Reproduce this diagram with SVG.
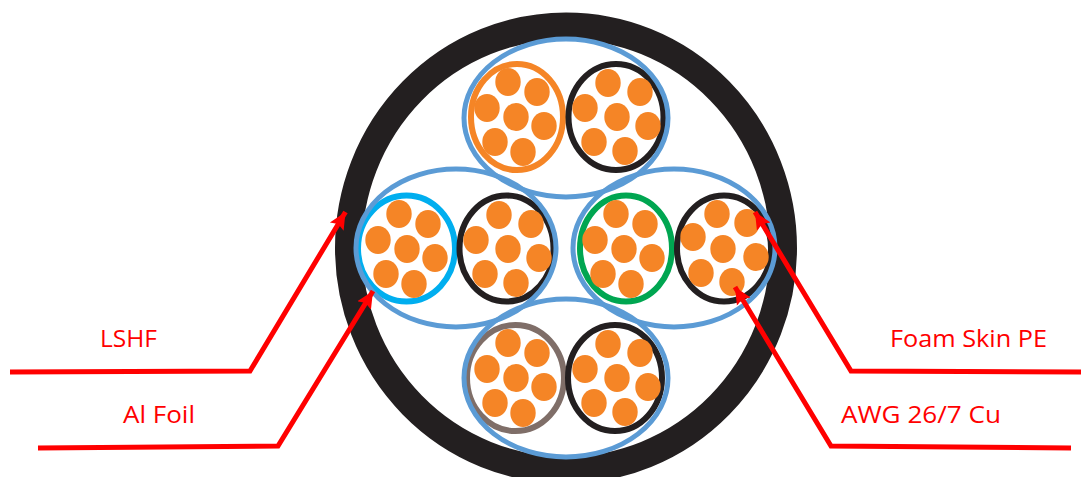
<svg xmlns="http://www.w3.org/2000/svg" width="1081" height="477" viewBox="0 0 1081 477">
<style>
.w{fill:#f58526}
.r{fill:#fff;stroke-width:6}
.b{fill:none;stroke:#5b9bd5;stroke-width:5}
.l{fill:none;stroke:#ff0000;stroke-width:5}
text{font-family:"Open Sans","Liberation Sans",sans-serif;font-size:24.500px;fill:#ff0000}
</style>
<defs>
<g id="wires">
<ellipse class="w" cx="-8" cy="-35" rx="12.7" ry="14"/>
<ellipse class="w" cx="21" cy="-25" rx="12.7" ry="14"/>
<ellipse class="w" cx="-29" cy="-9" rx="12.7" ry="14"/>
<ellipse class="w" cx="0" cy="0" rx="12.7" ry="14"/>
<ellipse class="w" cx="28" cy="9" rx="12.7" ry="14"/>
<ellipse class="w" cx="-21" cy="25" rx="12.7" ry="14"/>
<ellipse class="w" cx="7" cy="35" rx="12.7" ry="14"/>
</g>
<g id="wires-wide">
<ellipse class="w" cx="-9" cy="-34" rx="12.7" ry="14"/>
<ellipse class="w" cx="23" cy="-25" rx="12.7" ry="14"/>
<ellipse class="w" cx="-32" cy="-9" rx="12.7" ry="14"/>
<ellipse class="w" cx="0" cy="0" rx="12.7" ry="14"/>
<ellipse class="w" cx="31" cy="9" rx="12.7" ry="14"/>
<ellipse class="w" cx="-23" cy="25" rx="12.7" ry="14"/>
<ellipse class="w" cx="8" cy="34" rx="12.7" ry="14"/>
</g>
<g id="wires-turned">
<ellipse class="w" cx="-6" cy="-35" rx="12.7" ry="14"/>
<ellipse class="w" cx="24" cy="-26" rx="12.7" ry="14"/>
<ellipse class="w" cx="-30" cy="-12" rx="12.7" ry="14"/>
<ellipse class="w" cx="0" cy="0" rx="12.7" ry="14"/>
<ellipse class="w" cx="33" cy="8" rx="12.7" ry="14"/>
<ellipse class="w" cx="-22" cy="24" rx="12.7" ry="14"/>
<ellipse class="w" cx="9" cy="33" rx="12.7" ry="14"/>
</g>
<marker id="a" markerUnits="userSpaceOnUse" markerWidth="20" markerHeight="20" refX="17" refY="9" orient="auto"><path d="M0 1L17 9L0 17L3 9Z" fill="#ff0000"/></marker>
</defs>
<rect width="1081" height="477" fill="#fff"/>
<g id="jacket"><ellipse cx="566" cy="248" rx="217.500" ry="222" fill="#fff" stroke="#231f20" stroke-width="27"/></g>
<g id="cable-orange"><ellipse class="r" cx="517" cy="117" rx="46" ry="53" stroke="#f58526" stroke-width="6.500"/><use href="#wires" x="516" y="117"/></g>
<g id="cable-top-black"><ellipse class="r" cx="616" cy="117" rx="47.500" ry="53" stroke="#231f20"/><use href="#wires-wide" x="617" y="117"/></g>
<g id="cable-blue"><ellipse class="r" cx="406.500" cy="248.500" rx="48.500" ry="53" stroke="#00aeef"/><use href="#wires" x="407" y="249"/></g>
<g id="cable-left-black"><ellipse class="r" cx="506.500" cy="248.500" rx="47" ry="53" stroke="#231f20"/><use href="#wires-wide" x="508" y="249"/></g>
<g id="cable-green"><ellipse class="r" cx="626" cy="248.500" rx="46" ry="53" stroke="#00a651"/><use href="#wires" x="624" y="249"/></g>
<g id="cable-right-black"><ellipse class="r" cx="724" cy="248.500" rx="47" ry="53" stroke="#231f20"/><use href="#wires-turned" x="723" y="249"/></g>
<g id="cable-brown"><ellipse class="r" cx="515.500" cy="378" rx="48.500" ry="53" stroke="#7f6e68"/><use href="#wires" x="516" y="378"/></g>
<g id="cable-bottom-black"><ellipse class="r" cx="615" cy="378" rx="47" ry="53" stroke="#231f20"/><use href="#wires-wide" x="617" y="378"/></g>
<g id="shield-top"><ellipse class="b" cx="566" cy="118" rx="102" ry="79"/></g>
<g id="shield-left"><ellipse class="b" cx="456" cy="248" rx="100" ry="79"/></g>
<g id="shield-right"><ellipse class="b" cx="674" cy="248" rx="101" ry="79"/></g>
<g id="shield-bottom"><ellipse class="b" cx="566" cy="378" rx="102" ry="79"/></g>
<g id="connectors">
<polyline class="l" points="10,372 250,371 345.500,212" marker-end="url(#a)"/>
<polyline class="l" points="38,448 278,446 373,291" marker-end="url(#a)"/>
<polyline class="l" points="1081,372 851,371 755,212" marker-end="url(#a)"/>
<polyline class="l" points="1071,448 831,446 735,287" marker-end="url(#a)"/>
</g>
<g id="labels">
<text x="100" y="347" textLength="57" lengthAdjust="spacingAndGlyphs">LSHF</text>
<text x="123" y="423" textLength="72" lengthAdjust="spacingAndGlyphs">Al Foil</text>
<text x="890" y="347" textLength="157" lengthAdjust="spacingAndGlyphs">Foam Skin PE</text>
<text x="841" y="423" textLength="160" lengthAdjust="spacingAndGlyphs">AWG 26/7 Cu</text>
</g>
</svg>
